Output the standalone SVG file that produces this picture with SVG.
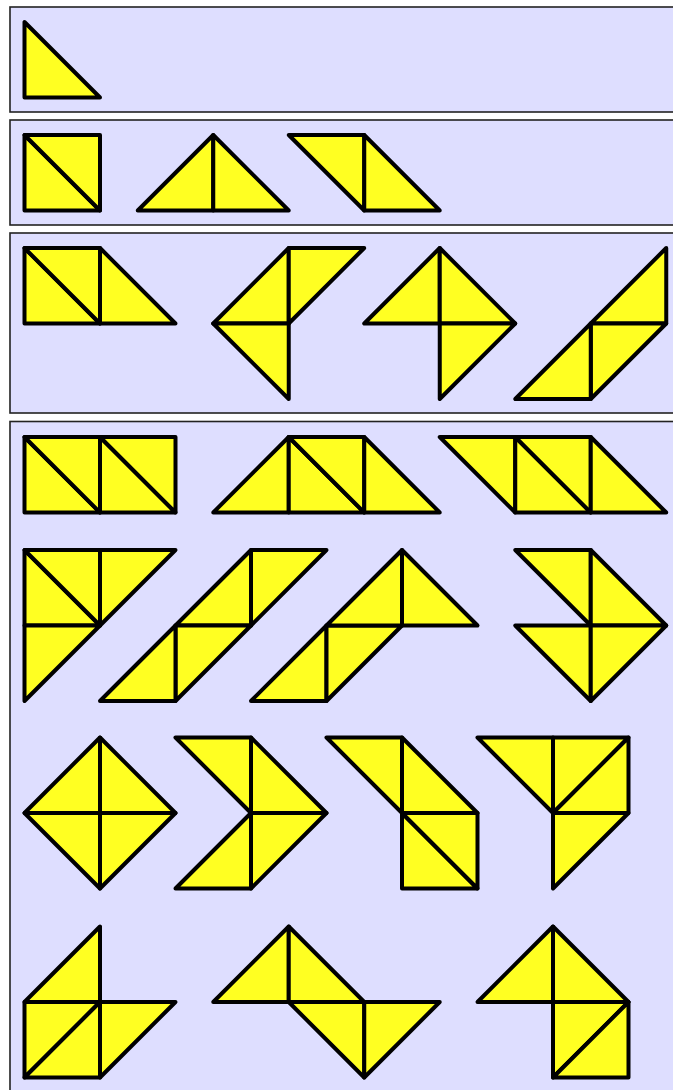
<svg xmlns="http://www.w3.org/2000/svg" width="673" height="1090" viewBox="0 0 673 1090">
<style>
.panel{fill:#dedeff;stroke:#222;stroke-width:1.6}
.t{fill:#ffff22;stroke:#000;stroke-width:4;stroke-linejoin:round}
</style>
<rect width="673" height="1090" fill="#ffffff"/>
<g id="panels">
<rect class="panel" x="10" y="7" width="700" height="105"/>
<rect class="panel" x="10" y="120" width="700" height="105"/>
<rect class="panel" x="10" y="233" width="700" height="180"/>
<rect class="panel" x="10" y="421.5" width="700" height="700"/>
</g>
<g id="mono">
<polygon class="t" points="24.5,22 24.5,97.5 100,97.5"/>
</g>
<g id="di1">
<polygon class="t" points="24.5,135 24.5,210.5 100,210.5"/>
<polygon class="t" points="24.5,135 100,135 100,210.5"/>
</g>
<g id="di2">
<polygon class="t" points="137.75,210.5 213.25,135 213.25,210.5"/>
<polygon class="t" points="213.25,135 213.25,210.5 288.75,210.5"/>
</g>
<g id="di3">
<polygon class="t" points="288.75,135 364.25,135 364.25,210.5"/>
<polygon class="t" points="364.25,135 364.25,210.5 439.75,210.5"/>
</g>
<g id="tri1">
<polygon class="t" points="24.5,248 24.5,323.5 100,323.5"/>
<polygon class="t" points="24.5,248 100,248 100,323.5"/>
<polygon class="t" points="100,248 100,323.5 175.5,323.5"/>
</g>
<g id="tri2">
<polygon class="t" points="288.75,248 213.25,323.5 288.75,323.5"/>
<polygon class="t" points="288.75,248 364.25,248 288.75,323.5"/>
<polygon class="t" points="213.25,323.5 288.75,323.5 288.75,399"/>
</g>
<g id="tri3">
<polygon class="t" points="439.75,248 364.25,323.5 439.75,323.5"/>
<polygon class="t" points="439.75,248 439.75,323.5 515.25,323.5"/>
<polygon class="t" points="439.75,323.5 515.25,323.5 439.75,399"/>
</g>
<g id="tri4">
<polygon class="t" points="666.25,248 590.75,323.5 666.25,323.5"/>
<polygon class="t" points="590.75,323.5 666.25,323.5 590.75,399"/>
<polygon class="t" points="590.75,323.5 515.25,399 590.75,399"/>
</g>
<g id="tetA">
<polygon class="t" points="24.5,437 24.5,512.5 100,512.5"/>
<polygon class="t" points="24.5,437 100,437 100,512.5"/>
<polygon class="t" points="100,437 100,512.5 175.5,512.5"/>
<polygon class="t" points="100,437 175.5,437 175.5,512.5"/>
</g>
<g id="tetB">
<polygon class="t" points="213.25,512.5 288.75,437 288.75,512.5"/>
<polygon class="t" points="288.75,437 288.75,512.5 364.25,512.5"/>
<polygon class="t" points="288.75,437 364.25,437 364.25,512.5"/>
<polygon class="t" points="364.25,437 364.25,512.5 439.75,512.5"/>
</g>
<g id="tetC">
<polygon class="t" points="439.75,437 515.25,437 515.25,512.5"/>
<polygon class="t" points="515.25,437 515.25,512.5 590.75,512.5"/>
<polygon class="t" points="515.25,437 590.75,437 590.75,512.5"/>
<polygon class="t" points="590.75,437 590.75,512.5 666.25,512.5"/>
</g>
<g id="tetD">
<polygon class="t" points="24.5,550 24.5,625.5 100,625.5"/>
<polygon class="t" points="24.5,550 100,550 100,625.5"/>
<polygon class="t" points="100,550 175.5,550 100,625.5"/>
<polygon class="t" points="24.5,625.5 100,625.5 24.5,701"/>
</g>
<g id="tetE">
<polygon class="t" points="175.5,625.5 251,550 251,625.5"/>
<polygon class="t" points="251,550 326.5,550 251,625.5"/>
<polygon class="t" points="175.5,625.5 251,625.5 175.5,701"/>
<polygon class="t" points="100,701 175.5,625.5 175.5,701"/>
</g>
<g id="tetF">
<polygon class="t" points="251,701 326.5,625.5 326.5,701"/>
<polygon class="t" points="326.5,625.5 402,625.5 326.5,701"/>
<polygon class="t" points="326.5,625.5 402,550 402,625.5"/>
<polygon class="t" points="402,550 477.5,625.5 402,625.5"/>
</g>
<g id="tetG">
<polygon class="t" points="515.25,550 590.75,550 590.75,625.5"/>
<polygon class="t" points="590.75,550 666.25,625.5 590.75,625.5"/>
<polygon class="t" points="515.25,625.5 590.75,625.5 590.75,701"/>
<polygon class="t" points="590.75,625.5 666.25,625.5 590.75,701"/>
</g>
<g id="tetH">
<polygon class="t" points="24.5,813 100,737.5 100,813"/>
<polygon class="t" points="100,737.5 175.5,813 100,813"/>
<polygon class="t" points="24.5,813 100,813 100,888.5"/>
<polygon class="t" points="100,813 175.5,813 100,888.5"/>
</g>
<g id="tetI">
<polygon class="t" points="175.5,737.5 251,737.5 251,813"/>
<polygon class="t" points="251,737.5 326.5,813 251,813"/>
<polygon class="t" points="175.5,888.5 251,813 251,888.5"/>
<polygon class="t" points="251,813 326.5,813 251,888.5"/>
</g>
<g id="tetJ">
<polygon class="t" points="326.5,737.5 402,737.5 402,813"/>
<polygon class="t" points="402,737.5 477.5,813 402,813"/>
<polygon class="t" points="402,813 402,888.5 477.5,888.5"/>
<polygon class="t" points="402,813 477.5,813 477.5,888.5"/>
</g>
<g id="tetK">
<polygon class="t" points="477.5,737.5 553,737.5 553,813"/>
<polygon class="t" points="553,737.5 628.5,737.5 553,813"/>
<polygon class="t" points="628.5,737.5 628.5,813 553,813"/>
<polygon class="t" points="553,813 628.5,813 553,888.5"/>
</g>
<g id="tetL">
<polygon class="t" points="24.5,1002 100,926.5 100,1002"/>
<polygon class="t" points="24.5,1002 100,1002 24.5,1077.5"/>
<polygon class="t" points="100,1002 100,1077.5 24.5,1077.5"/>
<polygon class="t" points="100,1002 175.5,1002 100,1077.5"/>
</g>
<g id="tetM">
<polygon class="t" points="213.25,1002 288.75,926.5 288.75,1002"/>
<polygon class="t" points="288.75,926.5 364.25,1002 288.75,1002"/>
<polygon class="t" points="288.75,1002 364.25,1002 364.25,1077.5"/>
<polygon class="t" points="364.25,1002 439.75,1002 364.25,1077.5"/>
</g>
<g id="tetN">
<polygon class="t" points="477.5,1002 553,926.5 553,1002"/>
<polygon class="t" points="553,926.5 628.5,1002 553,1002"/>
<polygon class="t" points="553,1002 628.5,1002 553,1077.5"/>
<polygon class="t" points="628.5,1002 628.5,1077.5 553,1077.5"/>
</g>
<g id="connectors"/>
</svg>
